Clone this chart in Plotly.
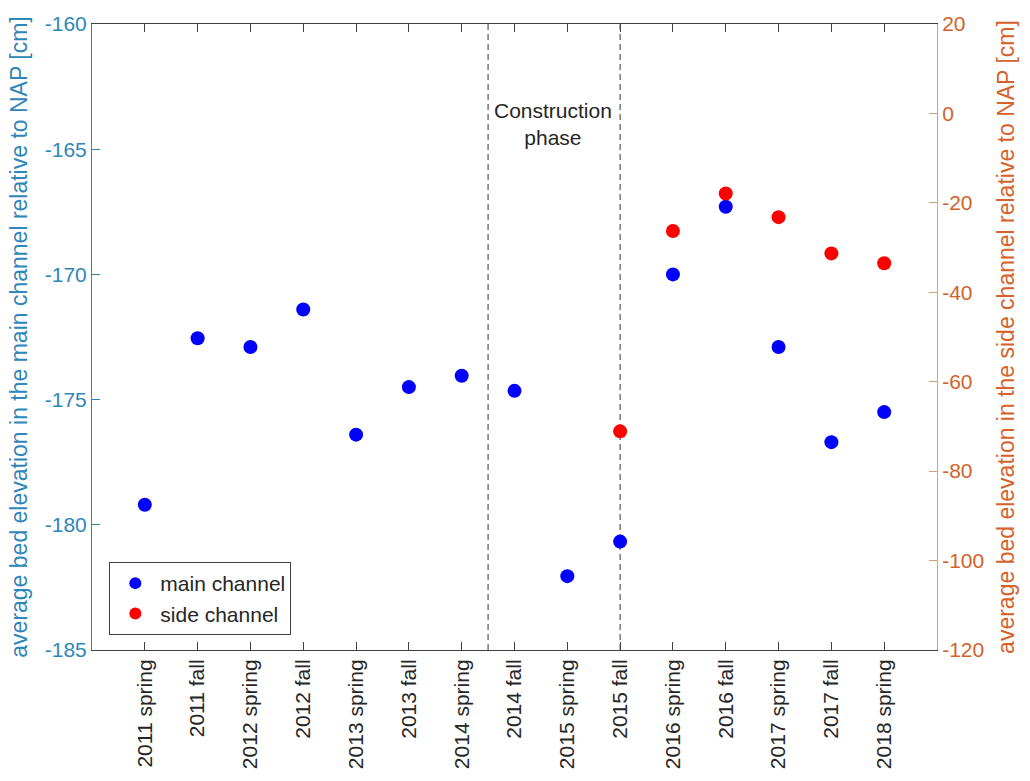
import plotly.graph_objects as go

# Survey campaigns (x categories)
campaigns = [
    "2011 spring", "2011 fall", "2012 spring", "2012 fall", "2013 spring",
    "2013 fall", "2014 spring", "2014 fall", "2015 spring", "2015 fall",
    "2016 spring", "2016 fall", "2017 spring", "2017 fall", "2018 spring",
]

# Average bed elevation in the main channel [cm, relative to NAP]
main_channel = [
    -179.2, -172.55, -172.9, -171.4, -176.4,
    -174.5, -174.05, -174.65, -182.05, -180.67,
    -170.0, -167.3, -172.9, -176.7, -175.5,
]

# Side channel exists from 2015 fall onwards [cm, relative to NAP]
side_campaigns = ["2015 fall", "2016 spring", "2016 fall", "2017 spring", "2017 fall", "2018 spring"]
side_channel = [-71.1, -26.3, -17.9, -23.2, -31.3, -33.5]

left_ticks = [-185, -180, -175, -170, -165, -160]
right_ticks = [-120, -100, -80, -60, -40, -20, 0, 20]

LEFT_COLOR = "#2f86b8"
RIGHT_COLOR = "#d4622a"
AX_COLOR = "#404040"
FONT = "Liberation Sans, Arial, sans-serif"

fig = go.Figure()

fig.add_trace(go.Scatter(
    x=campaigns, y=main_channel, mode="markers", name="main channel",
    marker=dict(color="#0000ff", size=14), yaxis="y",
))
fig.add_trace(go.Scatter(
    x=side_campaigns, y=side_channel, mode="markers", name="side channel",
    marker=dict(color="#ff0000", size=14), yaxis="y2",
))

# Construction phase boundaries
for xv in (6.5, 9):
    fig.add_shape(type="line", xref="x", yref="paper", x0=xv, x1=xv, y0=0, y1=1,
                  line=dict(color="#555555", width=1.2, dash="6px,4px"), layer="below")

fig.add_annotation(
    x=7.72, y=-164.0, xref="x", yref="y", text="Construction<br>phase",
    showarrow=False, align="center", font=dict(family=FONT, size=21, color="#262626"),
)

fig.update_layout(
    width=1030, height=781,
    margin=dict(l=92, r=93, t=19, b=127),
    paper_bgcolor="white", plot_bgcolor="white",
    font=dict(family=FONT, size=21, color="#262626"),
    showlegend=True,
    legend=dict(
        x=0.0205, y=0.024, xanchor="left", yanchor="bottom",
        bgcolor="white", bordercolor="#404040", borderwidth=1,
        font=dict(family=FONT, size=21, color="#262626"),
        tracegroupgap=0, itemsizing="constant", itemwidth=40,
    ),
    xaxis=dict(
        type="category", categoryorder="array", categoryarray=campaigns,
        range=[-1, 15], tickangle=-90,
        showline=True, linecolor=AX_COLOR, linewidth=1, mirror="ticks",
        ticks="inside", ticklen=8, tickcolor=AX_COLOR,
        showgrid=False, zeroline=False,
        tickfont=dict(family=FONT, size=21, color="#262626"),
    ),
    yaxis=dict(
        range=[-185, -160], tickvals=left_ticks,
        ticktext=[str(v) for v in left_ticks],
        showline=True, linecolor=LEFT_COLOR, linewidth=1,
        ticks="inside", ticklen=8, tickcolor=LEFT_COLOR,
        showgrid=False, zeroline=False,
        tickfont=dict(family=FONT, size=21, color=LEFT_COLOR),
        title=dict(text="average bed elevation in the main channel relative to NAP [cm]",
                   font=dict(family=FONT, size=23, color=LEFT_COLOR), standoff=10),
    ),
    yaxis2=dict(
        range=[-120, 20], tickvals=right_ticks,
        ticktext=[str(v) for v in right_ticks],
        overlaying="y", side="right",
        showline=True, linecolor="#d8a070", linewidth=1,
        ticks="inside", ticklen=8, tickcolor="#d8a070",
        showgrid=False, zeroline=False,
        tickfont=dict(family=FONT, size=21, color=RIGHT_COLOR),
        title=dict(text="average bed elevation in the side channel relative to NAP [cm]",
                   font=dict(family=FONT, size=23, color=RIGHT_COLOR), standoff=14),
    ),
)

fig.write_html("out.html")
